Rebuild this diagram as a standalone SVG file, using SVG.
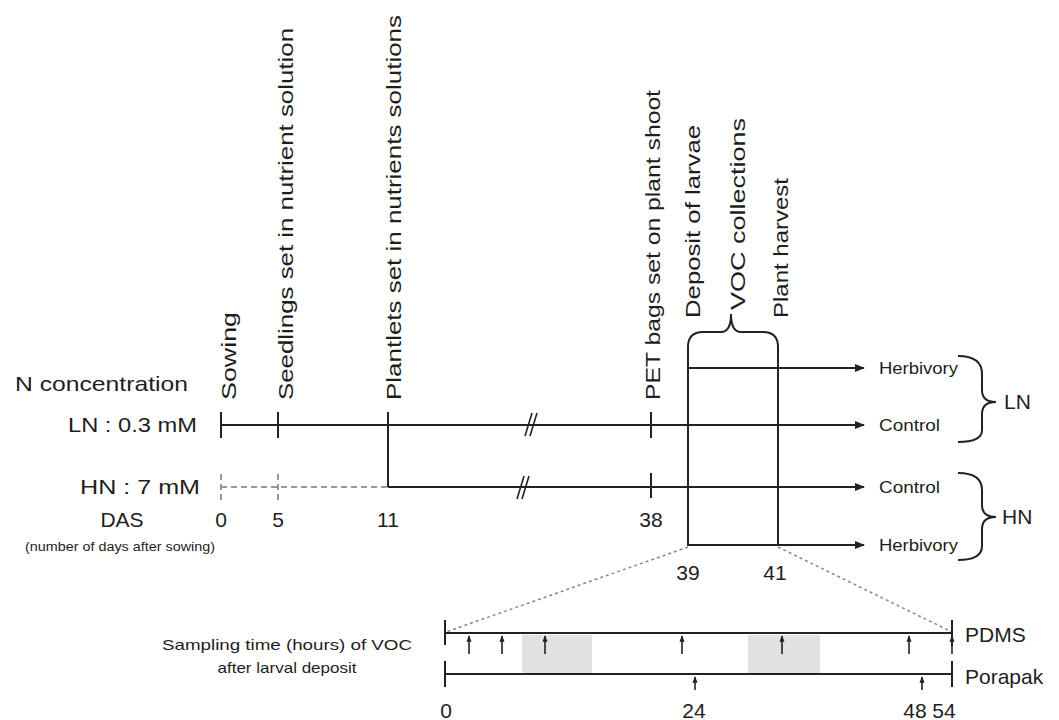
<svg xmlns="http://www.w3.org/2000/svg" width="1059" height="720" viewBox="0 0 1059 720">
<defs>
<style>
text{font-family:"Liberation Sans",Arial,sans-serif;fill:#1e1e1e}
.ln{stroke:#222;stroke-width:2;fill:none}
.thin{stroke:#222;stroke-width:1.6;fill:none}
.gd{stroke:#999;stroke-width:2;fill:none;stroke-dasharray:6 4}
.dot{stroke:#888;stroke-width:1.5;fill:none;stroke-dasharray:3 3}
.lab{font-size:21px}
.rot{font-size:21px}
.tr{font-size:16px}
.sm{font-size:15px}
</style>
<marker id="ah" viewBox="0 0 10 10" refX="9" refY="5" markerWidth="5" markerHeight="5" orient="auto">
<path d="M0,1 L10,5 L0,9 Z" fill="#222"/>
</marker>
<marker id="au" viewBox="0 0 10 10" refX="9" refY="5" markerWidth="4" markerHeight="4" orient="auto">
<path d="M0,1 L10,5 L0,9 Z" fill="#222"/>
</marker>
</defs>
<rect width="1059" height="720" fill="#fff"/>

<g id="shading">
<rect x="522" y="635" width="70" height="38" fill="#e2e2e2"/>
<rect x="748" y="635" width="72" height="38" fill="#e2e2e2"/>
</g>

<g id="labels-left">
<text class="lab" x="188" y="391" text-anchor="end" textLength="173" lengthAdjust="spacingAndGlyphs">N concentration</text>
<text class="lab" x="197" y="432" text-anchor="end" textLength="129" lengthAdjust="spacingAndGlyphs">LN : 0.3 mM</text>
<text class="lab" x="200" y="494" text-anchor="end" textLength="120" lengthAdjust="spacingAndGlyphs">HN : 7 mM</text>
<text class="lab" x="122" y="527" text-anchor="middle">DAS</text>
<text x="120" y="551" text-anchor="middle" font-size="12" textLength="190" lengthAdjust="spacingAndGlyphs">(number of days after sowing)</text>
</g>

<g id="event-labels">
<text class="rot" transform="translate(236,400) rotate(-90)" textLength="88" lengthAdjust="spacingAndGlyphs">Sowing</text>
<text class="rot" transform="translate(293,400) rotate(-90)" textLength="372" lengthAdjust="spacingAndGlyphs">Seedlings set in nutrient solution</text>
<text class="rot" transform="translate(401,400) rotate(-90)" textLength="385" lengthAdjust="spacingAndGlyphs">Plantlets set in nutrients solutions</text>
<text class="rot" transform="translate(660,400) rotate(-90)" textLength="310" lengthAdjust="spacingAndGlyphs">PET bags set on plant shoot</text>
<text class="rot" transform="translate(700,318) rotate(-90)" textLength="193" lengthAdjust="spacingAndGlyphs">Deposit of larvae</text>
<text class="rot" transform="translate(745,310) rotate(-90)" textLength="192" lengthAdjust="spacingAndGlyphs">VOC collections</text>
<text class="rot" transform="translate(788,318) rotate(-90)" textLength="140" lengthAdjust="spacingAndGlyphs">Plant harvest</text>
</g>

<g id="days">
<text class="lab" x="221" y="527" text-anchor="middle">0</text>
<text class="lab" x="278" y="527" text-anchor="middle">5</text>
<text class="lab" x="388" y="527" text-anchor="middle">11</text>
<text class="lab" x="651" y="527" text-anchor="middle">38</text>
<text class="lab" x="688" y="580" text-anchor="middle">39</text>
<text class="lab" x="775" y="580" text-anchor="middle">41</text>
</g>

<g id="treatments">
<text class="tr" x="879" y="374" textLength="79" lengthAdjust="spacingAndGlyphs">Herbivory</text>
<text class="tr" x="879" y="431" textLength="61" lengthAdjust="spacingAndGlyphs">Control</text>
<text class="tr" x="879" y="493" textLength="61" lengthAdjust="spacingAndGlyphs">Control</text>
<text class="tr" x="879" y="551" textLength="79" lengthAdjust="spacingAndGlyphs">Herbivory</text>
<path class="ln" d="M958 356 Q982 356 982 374 L982 390 Q982 402 996 402 Q982 402 982 414 L982 430 Q982 442 958 442"/>
<text class="lab" x="1004" y="409">LN</text>
<path class="ln" d="M958 473 Q982 473 982 490 L982 505 Q982 517 996 517 Q982 517 982 529 L982 546 Q982 560 958 560"/>
<text class="lab" x="1002" y="524">HN</text>
</g>

<g id="connectors">
<path class="ln" d="M221 425 L864 425" marker-end="url(#ah)"/>
<path class="ln" d="M221 412 L221 438 M278 412 L278 438 M388 412 L388 487 M651 412 L651 438"/>
<path class="gd" d="M221 487 L388 487"/>
<path class="gd" d="M221 474 L221 500 M278 474 L278 500" stroke-dasharray="3 3"/>
<path class="ln" d="M388 487 L864 487" marker-end="url(#ah)"/>
<path class="ln" d="M651 473 L651 498"/>
<path class="thin" d="M525 436 L532 413 M530 436 L537 413"/>
<path class="thin" d="M517 499 L524 476 M522 499 L529 476"/>
<path class="ln" d="M688 345 L688 546 M778 345 L778 546"/>
<path class="ln" d="M688 368 L864 368" marker-end="url(#ah)"/>
<path class="ln" d="M688 545 L864 545" marker-end="url(#ah)"/>
<path class="ln" d="M688 347 Q688 332 703 332 L721 332 Q731 332 731 314 Q731 332 741 332 L763 332 Q778 332 778 347"/>
<path class="dot" d="M688 547 L446 632 M778 547 L952 632"/>
</g>

<g id="sampling">
<text class="sm" x="287" y="650" text-anchor="middle" textLength="250" lengthAdjust="spacingAndGlyphs">Sampling time (hours) of VOC</text>
<text class="sm" x="287" y="673" text-anchor="middle" textLength="139" lengthAdjust="spacingAndGlyphs">after larval deposit</text>
<path class="ln" d="M445 633 L952 633 M445 620 L445 645 M952 620 L952 646"/>
<path class="ln" d="M445 674 L952 674 M445 661 L445 687 M952 661 L952 687"/>
<g class="thin" marker-end="url(#au)">
<path d="M469 654 L469 636"/>
<path d="M502 654 L502 636"/>
<path d="M545 654 L545 636"/>
<path d="M682 654 L682 636"/>
<path d="M782 654 L782 636"/>
<path d="M909 654 L909 636"/>
<path d="M952 654 L952 636"/>
<path d="M695 690 L695 677"/>
<path d="M922 690 L922 677"/>
</g>
<text class="lab" x="965" y="642">PDMS</text>
<text class="lab" x="965" y="684">Porapak</text>
<text class="lab" x="446" y="718" text-anchor="middle">0</text>
<text class="lab" x="694" y="718" text-anchor="middle">24</text>
<text class="lab" x="915" y="718" text-anchor="middle">48</text>
<text class="lab" x="944" y="718" text-anchor="middle">54</text>
</g>
</svg>
